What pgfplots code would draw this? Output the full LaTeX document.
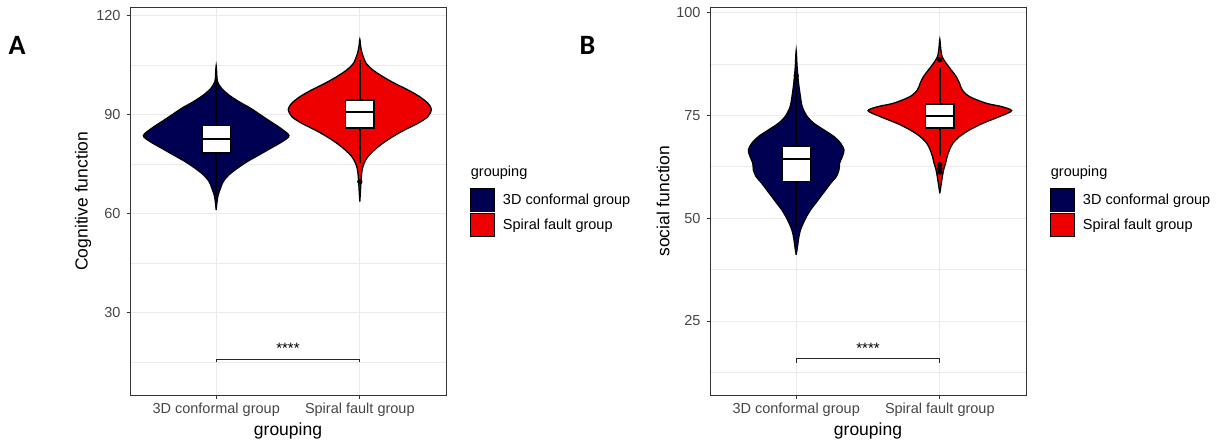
\documentclass[border=0pt]{standalone}
\usepackage{fontspec}
\setmainfont{Liberation Sans}
\newfontfamily\labfont{Carlito}
\usepackage{pgfplots}
\pgfplotsset{compat=1.18}
\definecolor{navyv}{RGB}{0,0,82}
\definecolor{redv}{RGB}{238,0,0}
\definecolor{grid92}{RGB}{235,235,235}
\definecolor{grey20}{RGB}{51,51,51}
\definecolor{grey30}{RGB}{70,70,70}
\pgfplotsset{
 ggbase/.style={
  scale only axis, width=316pt, height=388.3pt, anchor=south west, clip=false,
  xmin=0.4, xmax=2.6,
  xtick={1,2}, xticklabels={3D conformal group, Spiral fault group},
  tick align=outside, major tick length=3.3pt, minor tick length=0pt,
  xtick pos=bottom, ytick pos=left,
  tick style={draw=grey20, line width=0.8pt},
  axis line style={draw=grey20, line width=0.8pt},
  xmajorgrids, ymajorgrids, yminorgrids,
  major grid style={draw=grid92, line width=0.8pt},
  minor grid style={draw=grid92, line width=0.45pt},
  /pgf/number format/assume math mode=true,
  ticklabel style={font=\fontsize{14.5}{16}\selectfont, text=grey30},
  xticklabel style={anchor=base, inner sep=0pt, yshift=-14.7pt},
  yticklabel style={anchor=east, inner sep=0pt, xshift=-6pt},
  every axis x label/.style={at={(axis description cs:0.5,-0.0927)}, anchor=center,
    font=\fontsize{17.5}{20}\selectfont},
  every axis y label/.style={at={(axis description cs:-0.1487,0.5)}, anchor=center, rotate=90,
    font=\fontsize{17.5}{20}\selectfont},
  xlabel={grouping},
  legend style={at={(rel axis cs:1.0759,0.5331)}, anchor=north west, draw=none, fill=none,
    inner sep=0pt, row sep=1.2pt, column sep=8pt, font=\fontsize{14.5}{16}\selectfont,
    nodes={inner sep=0pt}},
  legend cell align=left,
  legend image code/.code={\draw[#1, line width=0.8pt] (0pt,-11.5pt) rectangle (24pt,11.5pt);},
 },
 violin/.style={draw=black, line width=1.3pt, smooth, tension=0.5, forget plot},
 whisk/.style={forget plot, draw=black, line width=2pt},
 boxs/.style={forget plot, draw=black, fill=white, line width=1.6pt, line join=miter},
 med/.style={forget plot, draw=black, line width=1.8pt},
 outl/.style={forget plot, only marks, mark=*, mark size=2.4pt, mark options={fill=black, draw=black, line width=0.4pt}},
}
\begin{document}
\begin{tikzpicture}
\useasboundingbox (0,0) rectangle (1216pt,443pt);
\node[anchor=base west, inner sep=0pt, font=\labfont\bfseries\fontsize{28}{30}\selectfont] at (8.5pt,388pt) {A};
\node[anchor=base west, inner sep=0pt, font=\labfont\bfseries\fontsize{28}{30}\selectfont] at (579.5pt,388pt) {B};

% ---------------- Panel A ----------------
\begin{axis}[ggbase, at={(130pt,47.7pt)},
  ymin=4.95, ymax=122.63, ytick={30,60,90,120}, minor ytick={15,45,75,105},
  ylabel={Cognitive function}]
\addplot[violin, fill=navyv] coordinates {
 (1,61.12) (0.994,63.65) (0.986,65.67) (0.970,67.69) (0.951,69.71) (0.912,71.73) (0.853,73.75)
 (0.784,75.77) (0.702,77.79) (0.621,79.81) (0.540,81.83) (0.493,83.65) (0.551,85.87) (0.621,87.89)
 (0.691,89.91) (0.760,91.93) (0.842,93.95) (0.912,95.97) (0.963,97.99) (0.991,100.01) (0.996,102.5)
 (1,104.86)
 (1.004,102.5) (1.009,100.01) (1.037,97.99) (1.088,95.97) (1.158,93.95) (1.240,91.93) (1.309,89.91)
 (1.379,87.89) (1.449,85.87) (1.507,83.65) (1.460,81.83) (1.379,79.81) (1.298,77.79) (1.216,75.77)
 (1.147,73.75) (1.088,71.73) (1.049,69.71) (1.030,67.69) (1.014,65.67) (1.006,63.65) (1,61.12)};
\addplot[violin, fill=redv] coordinates {
 (2,63.65) (1.995,67.2) (1.991,70.2) (1.984,73.25) (1.970,75.27) (1.944,77.29) (1.898,79.31)
 (1.840,81.33) (1.770,83.35) (1.688,85.37) (1.595,87.39) (1.526,89.41) (1.502,91.63) (1.526,93.45)
 (1.584,95.47) (1.665,97.49) (1.758,99.51) (1.840,101.53) (1.909,103.55) (1.956,105.57) (1.984,108.6)
 (1.994,110.7) (2,112.84)
 (2.006,110.7) (2.016,108.6) (2.044,105.57) (2.091,103.55) (2.160,101.53) (2.242,99.51) (2.335,97.49)
 (2.416,95.47) (2.474,93.45) (2.498,91.63) (2.474,89.41) (2.405,87.39) (2.312,85.37) (2.230,83.35)
 (2.160,81.33) (2.102,79.31) (2.056,77.29) (2.030,75.27) (2.016,73.25) (2.009,70.2) (2.005,67.2) (2,63.65)};
% box plot, group 1
\addplot[whisk] coordinates {(1,65.2) (1,100.5)};
\addplot[boxs] coordinates {(0.9,78.3) (1.1,78.3) (1.1,86.7) (0.9,86.7) (0.9,78.3) (1.1,78.3)};
\addplot[med] coordinates {(0.9,82.6) (1.1,82.6)};
% box plot, group 2
\addplot[whisk] coordinates {(2,75.3) (2,106.6)};
\addplot[boxs] coordinates {(1.9,85.87) (2.1,85.87) (2.1,94.46) (1.9,94.46) (1.9,85.87) (2.1,85.87)};
\addplot[med] coordinates {(1.9,90.9) (2.1,90.9)};
\addplot[outl] coordinates {(2,69.7)};
% significance
\addplot[forget plot, draw=black!85, line width=0.8pt] coordinates {(1,14.9) (1,15.9) (2,15.9) (2,14.9)};
\node[anchor=base, inner sep=0pt, font=\fontsize{15}{16}\selectfont] at (axis cs:1.5,17.5) {****};
\node[anchor=west, inner sep=0pt, font=\fontsize{14.5}{16}\selectfont] at (rel axis cs:1.0782,0.5725) {grouping};
\addlegendimage{fill=navyv, draw=black}
\addlegendentry{3D conformal group}
\addlegendimage{fill=redv, draw=black}
\addlegendentry{Spiral fault group}
\end{axis}

% ---------------- Panel B ----------------
\begin{axis}[ggbase, at={(710pt,47.7pt)},
  ymin=6.95, ymax=101.3, ytick={25,50,75,100}, minor ytick={12.5,37.5,62.5,87.5},
  ylabel={social function}]
\addplot[violin, fill=navyv] coordinates {
 (1,41.06) (0.991,43.08) (0.981,45.51) (0.970,47.13) (0.951,48.75) (0.928,50.37) (0.900,51.99)
 (0.865,53.61) (0.830,55.23) (0.795,56.85) (0.760,58.47) (0.721,60.09) (0.702,61.71) (0.698,63.33)
 (0.679,64.95) (0.667,66.57) (0.691,68.19) (0.737,69.81) (0.807,71.43) (0.877,73.05) (0.923,74.67)
 (0.958,77.10) (0.974,80.34) (0.986,83.58) (0.994,87.0) (1,90.7)
 (1.006,87.0) (1.014,83.58) (1.026,80.34) (1.042,77.10) (1.077,74.67) (1.123,73.05) (1.193,71.43)
 (1.263,69.81) (1.309,68.19) (1.333,66.57) (1.321,64.95) (1.302,63.33) (1.298,61.71) (1.279,60.09)
 (1.240,58.47) (1.205,56.85) (1.170,55.23) (1.135,53.61) (1.100,51.99) (1.072,50.37) (1.049,48.75)
 (1.030,47.13) (1.019,45.51) (1.009,43.08) (1,41.06)};
\addplot[violin, fill=redv] coordinates {
 (2,56.04) (1.986,59.28) (1.974,61.71) (1.960,63.33) (1.949,64.95) (1.933,66.57) (1.909,68.19)
 (1.863,69.81) (1.793,71.43) (1.700,73.05) (1.584,74.67) (1.500,76.1) (1.570,77.1) (1.677,77.91)
 (1.793,79.53) (1.844,81.15) (1.863,82.77) (1.886,84.39) (1.921,86.01) (1.956,87.63) (1.984,89.25)
 (1.994,91.3) (2,93.46)
 (2.006,91.3) (2.016,89.25) (2.044,87.63) (2.079,86.01) (2.114,84.39) (2.137,82.77) (2.156,81.15)
 (2.207,79.53) (2.323,77.91) (2.430,77.1) (2.500,76.1) (2.416,74.67) (2.300,73.05) (2.207,71.43)
 (2.137,69.81) (2.091,68.19) (2.067,66.57) (2.051,64.95) (2.040,63.33) (2.026,61.71) (2.014,59.28) (2,56.04)};
% box plot, group 1
\addplot[whisk] coordinates {(1,47.9) (1,81.8)};
\addplot[boxs] coordinates {(0.9,58.88) (1.1,58.88) (1.1,67.54) (0.9,67.54) (0.9,58.88) (1.1,58.88)};
\addplot[med] coordinates {(0.9,64.3) (1.1,64.3)};
\addplot[outl] coordinates {(1,83.6) (1,84.6)};
% box plot, group 2
\addplot[whisk] coordinates {(2,65.0) (2,86.4)};
\addplot[boxs] coordinates {(1.9,71.83) (2.1,71.83) (2.1,77.75) (1.9,77.75) (1.9,71.83) (2.1,71.83)};
\addplot[med] coordinates {(1.9,74.83) (2.1,74.83)};
\addplot[outl] coordinates {(2,88.5) (2,63.0) (2,62.0) (2,61.2)};
% significance
\addplot[forget plot, draw=black!85, line width=0.8pt] coordinates {(1,14.9) (1,16.0) (2,16.0) (2,14.9)};
\node[anchor=base, inner sep=0pt, font=\fontsize{15}{16}\selectfont] at (axis cs:1.5,17.0) {****};
\node[anchor=west, inner sep=0pt, font=\fontsize{14.5}{16}\selectfont] at (rel axis cs:1.0782,0.5725) {grouping};
\addlegendimage{fill=navyv, draw=black}
\addlegendentry{3D conformal group}
\addlegendimage{fill=redv, draw=black}
\addlegendentry{Spiral fault group}
\end{axis}
\end{tikzpicture}
\end{document}
